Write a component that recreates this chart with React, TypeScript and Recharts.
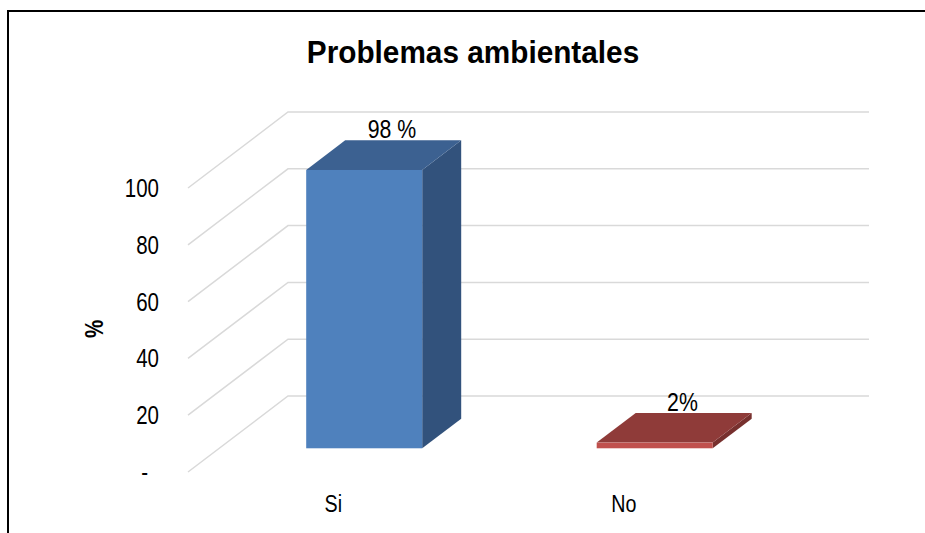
import React from "react";
import { BarChart, Bar, XAxis, YAxis, CartesianGrid, LabelList, Customized } from "recharts";

const categories = ["Si", "No"];
const percentValues = [98, 2];
const valueLabels = ["98 %", "2%"];
const yTicks = [0, 20, 40, 60, 80, 100];

const data = categories.map((name, i) => ({
  name,
  value: percentValues[i],
  label: valueLabels[i],
}));

const faceColors = [
  { front: "#4F81BD", top: "#3C6191", side: "#32527C" },
  { front: "#C0504D", top: "#8F3B39", side: "#77302E" },
];

// 3D look: full floor depth, and where each box sits inside it
const DEPTH_X = 100;
const DEPTH_Y = -76;
const BAR_FRONT = 0.312;
const BAR_DEPTH = 0.39;

const FONT = "'Liberation Sans', Arial, sans-serif";
const NARROW_SCALE = 0.82; // no Arial Narrow here, squeeze Liberation Sans instead

// text squeezed horizontally around its anchor point
const NarrowText = ({ x, y, children, scale = NARROW_SCALE, rotate = 0, ...rest }: any) => (
  <text
    x={0}
    y={0}
    transform={`translate(${x},${y}) rotate(${rotate}) scale(${scale},1)`}
    fontFamily={FONT}
    fill="#000"
    {...rest}
  >
    {children}
  </text>
);

const Bar3D = (props: any) => {
  const { x, y, width, height, payload } = props;
  const c = faceColors[Math.max(0, categories.indexOf(payload?.name))];
  const fx = x + DEPTH_X * BAR_FRONT;
  const fy = y + DEPTH_Y * BAR_FRONT;
  const dx = DEPTH_X * BAR_DEPTH;
  const dy = DEPTH_Y * BAR_DEPTH;
  const top = `M${fx},${fy} L${fx + width},${fy} L${fx + width + dx},${fy + dy} L${fx + dx},${fy + dy} Z`;
  const side = `M${fx + width},${fy} L${fx + width + dx},${fy + dy} L${fx + width + dx},${fy + dy + height} L${fx + width},${fy + height} Z`;
  return (
    <g>
      <path d={side} fill={c.side} />
      <path d={top} fill={c.top} />
      <rect x={fx} y={fy} width={width} height={height} fill={c.front} />
    </g>
  );
};

const BarLabel = (props: any) => {
  const { x, y, width, value } = props;
  return (
    <NarrowText x={x + width / 2 + 59} y={y - 65} textAnchor="middle" dominantBaseline="central" fontSize={26}>
      {value}
    </NarrowText>
  );
};

const gridLine = (p: any) => {
  const { x1, y1, x2 } = p;
  return (
    <path
      key={`g-${y1}`}
      d={`M${x1},${y1} L${x1 + DEPTH_X},${y1 + DEPTH_Y} L${x2 + DEPTH_X},${y1 + DEPTH_Y}`}
      fill="none"
      stroke="#D9D9D9"
      strokeWidth={1.5}
    />
  );
};

const YTick = (props: any) => {
  const { x, y, payload } = props;
  const isZero = payload.value === 0;
  return (
    <NarrowText x={isZero ? x - 11 : x} y={y + 9} textAnchor="end" fontSize={25}>
      {isZero ? "-" : payload.value}
    </NarrowText>
  );
};

const XTick = (props: any) => {
  const { x, y, payload } = props;
  return (
    <NarrowText x={x} y={y + 40} textAnchor="middle" fontSize={24}>
      {payload.value}
    </NarrowText>
  );
};

const Title = () => (
  <NarrowText x={473} y={63} scale={0.93} textAnchor="middle" fontWeight="bold" fontSize={32}>
    Problemas ambientales
  </NarrowText>
);

const App = () => {
  return (
    <div style={{ position: "absolute", left: 0, top: 0, width: 925, height: 533, background: "#fff", overflow: "hidden" }}>
      <div
        style={{
          position: "absolute",
          left: 7,
          top: 10,
          width: 940,
          height: 600,
          borderLeft: "2px solid #000",
          borderTop: "2px solid #000",
        }}
      />
      <div style={{ position: "absolute", left: 0, top: 0 }}>
        <BarChart
          width={925}
          height={533}
          data={data}
          margin={{ top: 188, right: 156, bottom: 31, left: 128 }}
          barCategoryGap={0}
        >
          <CartesianGrid horizontal={gridLine} vertical={false} />
          <XAxis
            dataKey="name"
            axisLine={false}
            tickLine={false}
            tickSize={0}
            tickMargin={0}
            height={30}
            tick={<XTick />}
            interval={0}
          />
          <YAxis
            width={60}
            domain={[0, 100]}
            ticks={yTicks}
            axisLine={false}
            tickLine={false}
            tickSize={0}
            tickMargin={29}
            tick={<YTick />}
            label={{
              content: () => (
                <NarrowText
                  x={94}
                  y={329}
                  rotate={-90}
                  textAnchor="middle"
                  dominantBaseline="central"
                  fontWeight="bold"
                  fontSize={25}
                >
                  %
                </NarrowText>
              ),
            }}
          />
          <Bar dataKey="value" barSize={116} shape={<Bar3D />} isAnimationActive={false}>
            <LabelList dataKey="label" content={<BarLabel />} />
          </Bar>
          <Customized component={<Title />} />
        </BarChart>
      </div>
    </div>
  );
};

export default App;
